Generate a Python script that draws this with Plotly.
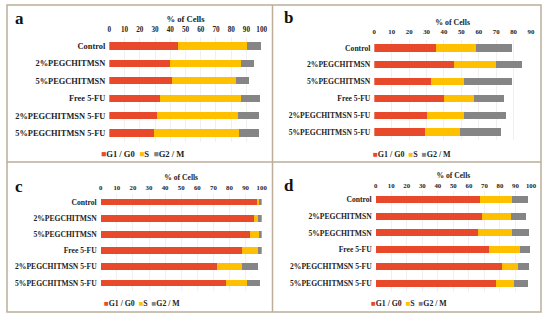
import plotly.graph_objects as go

categories = ["Control", "2%PEGCHITMSN", "5%PEGCHITMSN", "Free 5-FU",
              "2%PEGCHITMSN 5-FU", "5%PEGCHITMSN 5-FU"]
series_names = ["G1 / G0", "S", "G2 / M"]
colors = ["#E8492A", "#FFC000", "#858585"]

a_g1 = [45.3, 39.8, 41.1, 33.5, 31.1, 29.5]
a_s = [45.3, 46.4, 42.1, 53.2, 53.1, 55.8]
a_g2 = [9.0, 9.0, 8.5, 12.2, 14.0, 13.2]

b_g1 = [35.2, 45.6, 32.4, 40.0, 30.3, 29.1]
b_s = [23.0, 24.1, 18.9, 17.0, 21.4, 20.1]
b_g2 = [21.1, 15.3, 27.6, 17.3, 24.2, 23.6]

c_g1 = [97.3, 95.2, 92.5, 88.0, 72.5, 77.6]
c_s = [1.2, 2.7, 5.6, 10.0, 15.1, 13.5]
c_g2 = [1.5, 2.1, 1.9, 2.0, 9.9, 7.9]

d_g1 = [67.0, 68.7, 65.7, 73.2, 81.5, 77.7]
d_s = [20.6, 18.4, 21.9, 19.9, 10.3, 11.1]
d_g2 = [10.3, 9.9, 11.3, 6.3, 6.7, 9.5]

W, H = 550, 322
SERIF = "Liberation Serif"

panels = [
    dict(letter="a", data=(a_g1, a_s, a_g2), xpx=(109.3, 261.7), xmax=100,
         ypx=(37.3, 141.7), cat=8.4, tick=7.2, title=8.6, leg=8.6,
         lpos=(19, 18), legpos=(142, 154), stand=3),
    dict(letter="b", data=(b_g1, b_s, b_g2), xpx=(374.3, 531.0), xmax=90,
         ypx=(39.6, 140.4), cat=7.6, tick=6.8, title=7.8, leg=8.0,
         lpos=(288, 17), legpos=(412, 154), stand=3),
    dict(letter="c", data=(c_g1, c_s, c_g2), xpx=(100.7, 261.7), xmax=100,
         ypx=(193.9, 291.1), cat=7.6, tick=6.8, title=7.6, leg=7.8,
         lpos=(19, 186), legpos=(142, 303), stand=2),
    dict(letter="d", data=(d_g1, d_s, d_g2), xpx=(375.7, 531.0), xmax=100,
         ypx=(190.9, 291.7), cat=7.6, tick=6.8, title=7.6, leg=7.8,
         lpos=(289, 185), legpos=(409, 303), stand=1),
]

fig = go.Figure()
layout = {}
annotations = []

for i, p in enumerate(panels):
    n = "" if i == 0 else str(i + 1)
    xa, ya = "x" + n, "y" + n
    for vals, name, col in zip(p["data"], series_names, colors):
        fig.add_trace(go.Bar(
            y=categories, x=vals, orientation="h", name=name,
            marker=dict(color=col, line=dict(width=0)),
            xaxis=xa, yaxis=ya, showlegend=False, width=0.42,
        ))
    tv = list(range(0, p["xmax"] + 1, 10))
    layout["xaxis" + n] = dict(
        domain=[p["xpx"][0] / W, p["xpx"][1] / W], range=[0, p["xmax"]],
        anchor=ya, side="top", showline=False,
        zeroline=False, showgrid=True, gridcolor="#f0f0f0", gridwidth=1,
        ticks="", tickfont=dict(family=SERIF, size=p["tick"], color="#222"),
        tickmode="array", tickvals=tv, ticktext=["<b>%d</b>" % v for v in tv],
        title=dict(text="<b>% of Cells</b>", standoff=1,
                   font=dict(family=SERIF, size=p["title"], color="#222")),
        automargin=False, fixedrange=True, ticklabelstandoff=p["stand"],
    )
    layout["yaxis" + n] = dict(
        domain=[1 - p["ypx"][1] / H, 1 - p["ypx"][0] / H],
        anchor=xa, type="category", categoryorder="array",
        categoryarray=categories, autorange="reversed",
        showline=False, showgrid=False, zeroline=False, ticks="",
        tickfont=dict(family=SERIF, size=p["cat"], color="#222"),
        tickmode="array", tickvals=categories,
        ticktext=["<b>%s</b>" % c for c in categories],
        ticklabelstandoff=3, automargin=False, fixedrange=True,
    )

    annotations.append(dict(
        text="<b>%s</b>" % p["letter"], x=p["lpos"][0] / W, y=1 - p["lpos"][1] / H,
        xref="paper", yref="paper", showarrow=False, xanchor="center",
        yanchor="middle", font=dict(family=SERIF, size=17, color="#111"),
    ))
    leg_text = "&nbsp;&nbsp;".join(
        "<span style='color:%s'>■</span><b>%s</b>" % (c, s)
        for c, s in zip(colors, series_names))
    annotations.append(dict(
        text=leg_text, x=p["legpos"][0] / W, y=1 - p["legpos"][1] / H,
        xref="paper", yref="paper", showarrow=False, xanchor="center",
        yanchor="middle", font=dict(family=SERIF, size=p["leg"], color="#222"),
    ))

border = "#BCAE98"
shapes = [
    dict(type="rect", xref="paper", yref="paper", x0=7 / W, x1=541 / W,
         y0=1 - 312 / H, y1=1 - 5 / H, line=dict(color=border, width=1.5)),
    dict(type="line", xref="paper", yref="paper", x0=272.5 / W, x1=272.5 / W,
         y0=1 - 312 / H, y1=1 - 5 / H, line=dict(color=border, width=1.5)),
    dict(type="line", xref="paper", yref="paper", x0=7 / W, x1=541 / W,
         y0=1 - 162 / H, y1=1 - 162 / H, line=dict(color=border, width=1.5)),
]

fig.update_layout(
    width=W, height=H, margin=dict(l=0, r=0, t=0, b=0),
    paper_bgcolor="white", plot_bgcolor="white", barmode="stack",
    showlegend=False, annotations=annotations, shapes=shapes,
    font=dict(family=SERIF), **layout,
)

fig.write_html("out.html", config={"displayModeBar": False},
               post_script="document.body.style.margin='0';document.body.style.padding='0';")
